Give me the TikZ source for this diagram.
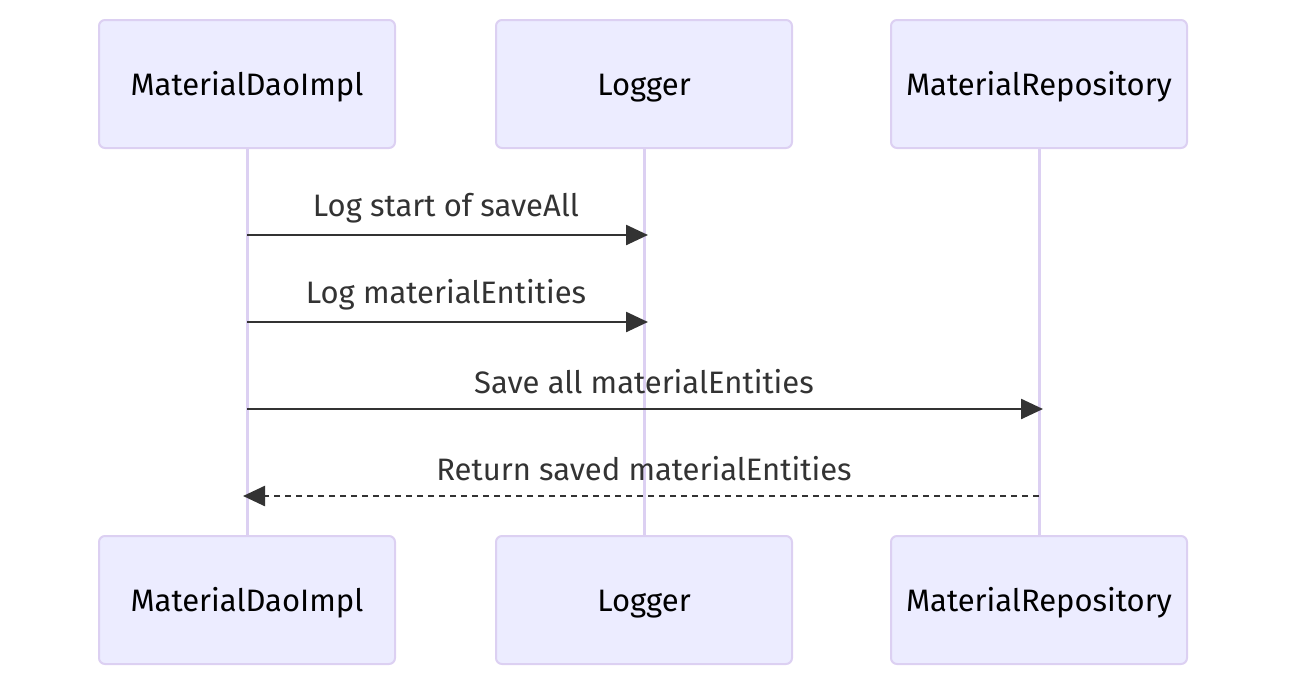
\documentclass[tikz,border=0pt]{standalone}
\usepackage{fontspec}
\setmainfont{Fira Sans}
\usetikzlibrary{arrows.meta}
\definecolor{actfill}{HTML}{ECECFF}
\definecolor{actdraw}{HTML}{DCD0F2}
\definecolor{msg}{HTML}{333333}
\tikzset{
  actor/.style={draw=actdraw, line width=2pt, fill=actfill, rounded corners=6pt,
    minimum width=296pt, minimum height=128pt, inner sep=0pt,
    text height=22pt, text depth=0pt,
    font=\fontsize{31}{36}\selectfont, text=black},
  life/.style={draw=actdraw, line width=3pt},
  msgline/.style={draw=msg, line width=2.5pt, -{Triangle[length=22pt,width=20pt]}},
  retline/.style={msgline, dash pattern=on 6pt off 5pt},
  lbl/.style={font=\fontsize{31}{36}\selectfont, text=msg, inner sep=0pt}
}
\begin{document}
\begin{tikzpicture}[x=1pt,y=-1pt]
\useasboundingbox (0,0) rectangle (1302,694);
\coordinate (la) at (247,148); \coordinate (lb) at (644,148); \coordinate (lc) at (1039,148);
\coordinate (ea) at (247,536); \coordinate (eb) at (644,536); \coordinate (ec) at (1039,536);
\draw[life] (la) -- (ea); \draw[life] (lb) -- (eb); \draw[life] (lc) -- (ec);
\node[actor] (A) at (247,84) {MaterialDaoImpl};
\node[actor] (B) at (644,84) {Logger};
\node[actor] (C) at (1039,84) {MaterialRepository};
\node[actor] (A2) at (247,600) {MaterialDaoImpl};
\node[actor] (B2) at (644,600) {Logger};
\node[actor] (C2) at (1039,600) {MaterialRepository};
\coordinate (m1a) at (247,235); \coordinate (m1b) at (648,235);
\coordinate (m2a) at (247,322); \coordinate (m2b) at (648,322);
\coordinate (m3a) at (247,409); \coordinate (m3b) at (1043,409);
\coordinate (m4a) at (1039,496); \coordinate (m4b) at (243,496);
\draw[msgline] (m1a) -- (m1b);
\draw[msgline] (m2a) -- (m2b);
\draw[msgline] (m3a) -- (m3b);
\draw[retline] (m4a) -- (m4b);
\node[lbl] (t1) at (446,208) {Log start of saveAll};
\node[lbl] (t2) at (446,295) {Log materialEntities};
\node[lbl] (t3) at (644,382) {Save all materialEntities};
\node[lbl] (t4) at (644,469) {Return saved materialEntities};
\end{tikzpicture}
\end{document}
